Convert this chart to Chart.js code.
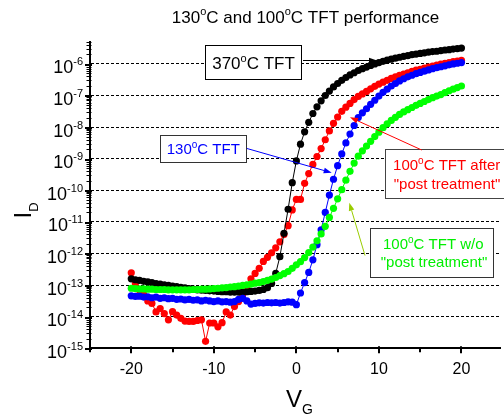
<!DOCTYPE html>
<html><head><meta charset="utf-8">
<script src="https://cdn.jsdelivr.net/npm/chart.js@4"></script>
<style>html,body{margin:0;padding:0;background:#fff;overflow:hidden}canvas{display:block}</style>
</head><body>
<canvas id="c" width="504" height="416"></canvas>
<script>
// Gate voltage sweep (V)
const VG = [-20,-19.5,-19,-18.5,-18,-17.5,-17,-16.5,-16,-15.5,-15,-14.5,-14,-13.5,-13,-12.5,-12,-11.5,-11,-10.5,
 -10,-9.5,-9,-8.5,-8,-7.5,-7,-6.5,-6,-5.5,-5,-4.5,-4,-3.5,-3,-2.5,-2,-1.5,-1,-0.5,
 0,0.5,1,1.5,2,2.5,3,3.5,4,4.5,5,5.5,6,6.5,7,7.5,8,8.5,9,9.5,
 10,10.5,11,11.5,12,12.5,13,13.5,14,14.5,15,15.5,16,16.5,17,17.5,18,18.5,19,19.5,20];

// Drain current as log10(I_D)
const logID_370C = [-12.8,-12.83,-12.85,-12.88,-12.9,-12.92,-12.95,-12.97,-12.99,-13.01,-13.03,-13.05,-13.07,-13.09,-13.11,-13.13,-13.15,-13.16,-13.17,-13.18,
 -13.19,-13.2,-13.21,-13.21,-13.22,-13.22,-13.22,-13.22,-13.21,-13.2,-13.19,-13.17,-13.14,-13.08,-12.95,-12.63,-12.1,-11.36,-10.6,-9.76,
 -9.07,-8.54,-8.15,-7.85,-7.57,-7.36,-7.17,-7.0,-6.86,-6.73,-6.62,-6.52,-6.43,-6.35,-6.28,-6.21,-6.15,-6.1,-6.05,-6.0,
 -5.96,-5.92,-5.88,-5.85,-5.82,-5.79,-5.76,-5.74,-5.71,-5.69,-5.67,-5.65,-5.63,-5.61,-5.6,-5.58,-5.56,-5.55,-5.53,-5.52,-5.5];

const logID_100C_after = [-12.61,-12.95,-13.16,-13.3,-13.5,-13.58,-13.85,-13.74,-13.9,-14.1,-13.84,-13.95,-14.05,-14.14,-14.15,-14.15,-14.12,-14.1,-14.78,-14.2,
 -14.2,-14.32,-14.19,-13.85,-13.95,-13.68,-13.52,-13.3,-13.05,-12.8,-12.63,-12.47,-12.25,-12.12,-11.98,-11.82,-11.63,-11.4,-11.12,-10.62,
 -10.29,-10.29,-9.78,-9.47,-9.18,-8.93,-8.68,-8.4,-8.12,-7.88,-7.68,-7.5,-7.37,-7.25,-7.13,-7.03,-6.95,-6.87,-6.79,-6.71,
 -6.64,-6.58,-6.52,-6.46,-6.41,-6.36,-6.32,-6.28,-6.24,-6.2,-6.17,-6.13,-6.1,-6.07,-6.04,-6.01,-5.98,-5.96,-5.93,-5.91,-5.89];

const logID_130C = [-13.34,-13.36,-13.35,-13.38,-13.37,-13.4,-13.38,-13.42,-13.4,-13.43,-13.42,-13.45,-13.44,-13.47,-13.45,-13.48,-13.47,-13.5,-13.48,-13.5,
 -13.52,-13.5,-13.53,-13.52,-13.54,-13.52,-13.45,-13.42,-13.5,-13.6,-13.58,-13.56,-13.57,-13.55,-13.56,-13.55,-13.57,-13.55,-13.53,-13.54,
 -13.62,-13.25,-12.92,-12.6,-12.2,-11.72,-11.25,-10.7,-10.15,-9.65,-9.22,-8.85,-8.5,-8.22,-7.95,-7.7,-7.55,-7.42,-7.28,-7.15,
 -7.02,-6.9,-6.8,-6.7,-6.62,-6.54,-6.47,-6.41,-6.36,-6.31,-6.27,-6.23,-6.19,-6.15,-6.12,-6.09,-6.06,-6.03,-6.0,-5.98,-5.96];

const logID_100C_wo = [-13.1,-13.11,-13.12,-13.12,-13.13,-13.13,-13.14,-13.14,-13.14,-13.15,-13.15,-13.15,-13.15,-13.15,-13.15,-13.14,-13.14,-13.13,-13.13,-13.12,
 -13.11,-13.1,-13.09,-13.08,-13.06,-13.05,-13.03,-13.01,-12.99,-12.97,-12.94,-12.92,-12.89,-12.85,-12.81,-12.76,-12.7,-12.64,-12.57,-12.47,
 -12.36,-12.26,-12.13,-11.97,-11.8,-11.6,-11.38,-11.14,-10.86,-10.57,-10.27,-9.98,-9.68,-9.4,-9.14,-8.92,-8.75,-8.6,-8.45,-8.3,
 -8.16,-8.02,-7.9,-7.79,-7.69,-7.6,-7.52,-7.45,-7.38,-7.31,-7.25,-7.19,-7.13,-7.07,-7.02,-6.97,-6.91,-6.85,-6.8,-6.75,-6.7];

// Axis ticks
const xTickValues = [-20, -10, 0, 10, 20];
const xMinorTicks = [-25, -15, -5, 5, 15];
const yDecadeExponents = [-15, -14, -13, -12, -11, -10, -9, -8, -7, -6];
const yMinorMultipliers = [2, 3, 4, 5, 6, 7, 8, 9];
const Y_MIN = 1e-15, Y_MAX = 5e-6, X_MIN = -25, X_MAX = 24.67;

const FONT = "'Liberation Sans', Arial, Helvetica, sans-serif";
const F = s => s + 'px ' + FONT;

function toPoints(logs) { return VG.map((v, i) => ({ x: v, y: Math.pow(10, logs[i]) })); }
function isDecade(v) { const l = Math.log10(v); return Math.abs(l - Math.round(l)) < 1e-6; }

function rich(ctx, parts, x, y, align) {
  let w = 0;
  parts.forEach(p => { ctx.font = F(p.s); p.w = ctx.measureText(p.t).width; w += p.w; });
  let cx = align === 'center' ? x - w / 2 : (align === 'right' ? x - w : x);
  ctx.textAlign = 'left'; ctx.textBaseline = 'alphabetic';
  parts.forEach(p => { ctx.font = F(p.s); ctx.fillStyle = p.c || '#000'; ctx.fillText(p.t, cx, y + (p.dy || 0)); cx += p.w; });
}
function degText(before, after, s, c, sup, dy) {
  return [{ t: before, s: s, c: c }, { t: 'o', s: sup, dy: dy, c: c }, { t: after, s: s, c: c }];
}
function arrow(ctx, x1, y1, x2, y2, color, hl, hw) {
  const a = Math.atan2(y2 - y1, x2 - x1), ca = Math.cos(a), sa = Math.sin(a);
  const bx = x2 - hl * ca, by = y2 - hl * sa;
  ctx.strokeStyle = color; ctx.fillStyle = color; ctx.lineWidth = 1;
  ctx.beginPath(); ctx.moveTo(x1, y1); ctx.lineTo(bx, by); ctx.stroke();
  ctx.beginPath(); ctx.moveTo(x2, y2); ctx.lineTo(bx + hw * sa, by - hw * ca); ctx.lineTo(bx - hw * sa, by + hw * ca); ctx.closePath(); ctx.fill();
}
function box(ctx, x1, y1, x2, y2, col) {
  ctx.fillStyle = '#fff'; ctx.fillRect(x1, y1, x2 - x1, y2 - y1);
  ctx.strokeStyle = col; ctx.lineWidth = 1; ctx.strokeRect(x1, y1, x2 - x1, y2 - y1);
}

const decor = {
  id: 'decor',
  afterDraw(chart) {
    const ctx = chart.ctx, A = chart.chartArea, ys = chart.scales.y, xs = chart.scales.x;
    ctx.save();
    ctx.strokeStyle = '#000';
    // y tick marks
    ys.ticks.forEach(t => {
      const py = Math.round(ys.getPixelForValue(t.value)) + 0.5, major = isDecade(t.value);
      ctx.lineWidth = 1;
      ctx.beginPath(); ctx.moveTo(A.left - (major ? 5 : 3.5), py); ctx.lineTo(A.left + (major ? 2 : 1.5), py); ctx.stroke();
      if (major) { ctx.beginPath(); ctx.moveTo(A.left - 5, py + 1); ctx.lineTo(A.left + 2, py + 1); ctx.stroke(); }
    });
    // x tick marks
    ctx.lineWidth = 2;
    xTickValues.concat(xMinorTicks).forEach(v => {
      const px = Math.round(xs.getPixelForValue(v));
      const major = xTickValues.includes(v);
      ctx.beginPath(); ctx.moveTo(px, A.bottom - (major ? 2 : 1)); ctx.lineTo(px, A.bottom + (major ? 5 : 4)); ctx.stroke();
    });
    // y tick labels 10^n
    yDecadeExponents.forEach(e => {
      const py = ys.getPixelForValue(Math.pow(10, e));
      const R = 83;
      ctx.font = F(11); const we = ctx.measureText(String(e)).width;
      ctx.font = F(18); const wb = ctx.measureText('10').width;
      ctx.fillStyle = '#000'; ctx.textAlign = 'left'; ctx.textBaseline = 'alphabetic';
      ctx.font = F(18); ctx.fillText('10', R - we - wb, py + 9.5);
      ctx.font = F(11); ctx.fillText(String(e), R - we, py + 1.5);
    });
    // axis titles
    rich(ctx, [{ t: 'V', s: 24 }, { t: 'G', s: 14, dy: 7.3 }], 286, 406.7, 'left');
    ctx.save(); ctx.translate(31, 218.5); ctx.rotate(-Math.PI / 2);
    rich(ctx, [{ t: 'I', s: 24 }, { t: 'D', s: 13, dy: 7 }], 0, 0, 'left');
    ctx.restore();
    // title
    rich(ctx, [{ t: '130', s: 17 }, { t: 'o', s: 11, dy: -7.5 }, { t: 'C and 100', s: 17 }, { t: 'o', s: 11, dy: -7.5 }, { t: 'C TFT performance', s: 17 }], 305.5, 22.7, 'center');
    // annotations
    box(ctx, 205.5, 45.5, 301.5, 79.5, '#000');
    rich(ctx, degText('370', 'C TFT', 17, '#000', 11, -7), 253.5, 69, 'center');
    arrow(ctx, 303, 60.5, 377, 60.5, '#000', 8, 2.8);

    box(ctx, 160.5, 135.5, 246.5, 162.5, '#333');
    rich(ctx, degText('130', 'C TFT', 15, '#0000ff', 10, -6), 203.3, 154.3, 'center');
    arrow(ctx, 247, 148.5, 331.7, 172.7, '#0000ff', 8, 2.8);

    box(ctx, 385.5, 149.5, 512, 198.5, '#444');
    rich(ctx, degText('100', 'C TFT after', 15, '#ff0000', 10, -6), 446.7, 170, 'center');
    rich(ctx, [{ t: '"post treatment"', s: 15, c: '#ff0000' }], 447, 189, 'center');
    arrow(ctx, 421.7, 150, 350, 117.3, '#ff0000', 8, 2.8);

    box(ctx, 370.5, 228.5, 493.5, 277.5, '#333');
    rich(ctx, degText('100', 'C TFT w/o', 15, '#00ee00', 10, -6), 433.3, 249.3, 'center');
    rich(ctx, [{ t: '"post treatment"', s: 15, c: '#00ee00' }], 434, 267, 'center');
    arrow(ctx, 365, 255.5, 349.3, 202.7, '#99cc00', 8, 2.8);
    ctx.restore();
  }
};

const series = [
  { label: '100°C TFT w/o "post treatment"', logs: logID_100C_wo, color: '#00ff00' },
  { label: '130°C TFT', logs: logID_130C, color: '#0000ff' },
  { label: '370°C TFT', logs: logID_370C, color: '#000000' },
  { label: '100°C TFT after "post treatment"', logs: logID_100C_after, color: '#ff0000' }
];

new Chart(document.getElementById('c'), {
  type: 'line',
  data: {
    datasets: series.map(s => ({
      label: s.label, data: toPoints(s.logs),
      borderColor: s.color, backgroundColor: s.color,
      pointBackgroundColor: s.color, pointBorderColor: s.color,
      pointRadius: 3.6, pointBorderWidth: 0, borderWidth: 1, tension: 0, fill: false
    }))
  },
  options: {
    responsive: false, animation: false, events: [],
    layout: { padding: { top: 41.8, left: 0, right: 0, bottom: 0 } },
    plugins: { legend: { display: false }, title: { display: false }, tooltip: { enabled: false } },
    scales: {
      x: {
        type: 'linear', min: X_MIN, max: X_MAX,
        afterBuildTicks: s => { s.ticks = xTickValues.map(v => ({ value: v })); },
        afterFit: s => { s.height = 416 - 348.3; s.paddingLeft = 0; s.paddingRight = 0; },
        grid: { drawOnChartArea: false, drawTicks: false },
        border: { display: true, color: '#000', width: 2 },
        ticks: { color: '#000', font: { family: FONT, size: 16 }, padding: 12, maxRotation: 0, autoSkip: false }
      },
      y: {
        type: 'logarithmic', min: Y_MIN, max: Y_MAX,
        afterBuildTicks: s => {
          const t = [];
          yDecadeExponents.forEach(e => {
            t.push({ value: Math.pow(10, e) });
            yMinorMultipliers.forEach(m => { const v = m * Math.pow(10, e); if (v <= Y_MAX * 1.0001) t.push({ value: v }); });
          });
          s.ticks = t;
        },
        afterFit: s => { s.width = 90; s.paddingTop = 0; s.paddingBottom = 0; },
        grid: {
          drawTicks: false, lineWidth: 1,
          color: c => (c.tick && isDecade(c.tick.value)) ? '#000' : 'rgba(0,0,0,0)'
        },
        border: { display: true, color: '#000', width: 2, dash: [3, 2] },
        ticks: { display: false }
      }
    }
  },
  plugins: [decor]
});
</script>
</body></html>
